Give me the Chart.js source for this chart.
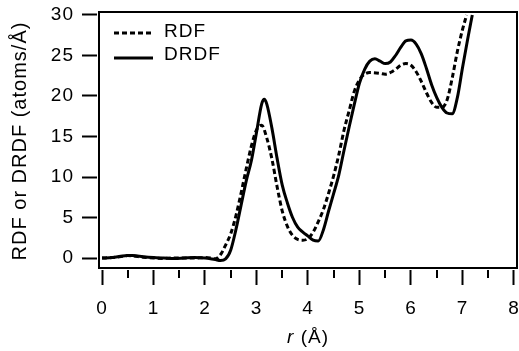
<!DOCTYPE html>
<html>
<head>
<meta charset="utf-8">
<script src="https://cdn.jsdelivr.net/npm/chart.js@4.4.1/dist/chart.umd.min.js"></script>
<style>
  html, body { margin: 0; padding: 0; background: #fff; }
  #chart { display: block; }
</style>
</head>
<body>
<canvas id="chart" width="519" height="351"></canvas>
<script>
// values
const rdfR = [0, 0.2, 0.4, 0.5, 0.6, 0.8, 1.0, 1.2, 1.4, 1.6, 1.8, 2.0, 2.1, 2.2, 2.3, 2.4, 2.5, 2.6, 2.7, 2.8, 2.9, 3.0, 3.1, 3.2, 3.3, 3.4, 3.5, 3.6, 3.7, 3.8, 3.9, 4.0, 4.1, 4.2, 4.3, 4.4, 4.5, 4.6, 4.7, 4.8, 4.9, 5.0, 5.1, 5.2, 5.4, 5.5, 5.6, 5.7, 5.8, 5.9, 6.0, 6.1, 6.2, 6.3, 6.4, 6.5, 6.6, 6.7, 6.8, 6.9, 7.0, 7.08];
const rdfValues = [0, 0.05, 0.2, 0.3, 0.25, 0.1, 0, -0.05, 0, 0, 0, 0.05, 0, -0.1, 0.4, 1.6, 3.0, 5.2, 8.0, 11.0, 13.8, 15.8, 16.4, 14.8, 12.2, 8.8, 5.8, 3.9, 2.8, 2.3, 2.2, 2.4, 3.2, 4.5, 6.0, 8.0, 10.2, 12.8, 15.8, 18.2, 20.6, 22.0, 22.7, 22.9, 22.8, 22.7, 22.9, 23.3, 23.8, 24.0, 23.8, 23.0, 21.8, 20.4, 19.2, 18.6, 18.6, 19.5, 22.2, 25.5, 28.2, 30.0];

const drdfR = [0, 0.2, 0.4, 0.5, 0.6, 0.8, 1.0, 1.2, 1.4, 1.6, 1.8, 2.0, 2.2, 2.3, 2.4, 2.5, 2.6, 2.7, 2.8, 2.9, 3.0, 3.1, 3.15, 3.2, 3.3, 3.4, 3.5, 3.6, 3.7, 3.8, 3.9, 4.0, 4.1, 4.2, 4.3, 4.4, 4.5, 4.6, 4.7, 4.8, 4.9, 5.0, 5.1, 5.2, 5.3, 5.4, 5.5, 5.6, 5.7, 5.8, 5.9, 6.0, 6.1, 6.2, 6.3, 6.4, 6.5, 6.6, 6.7, 6.8, 6.9, 7.0, 7.1, 7.19];
const drdfValues = [0, 0.05, 0.25, 0.3, 0.3, 0.15, 0.05, 0, -0.05, 0, 0.05, 0, -0.2, -0.3, -0.1, 1.0, 3.5, 6.5, 9.5, 12.0, 15.5, 19.0, 19.6, 19.0, 16.0, 12.3, 9.0, 6.8, 5.0, 3.8, 3.2, 2.7, 2.2, 2.1, 3.5, 5.8, 8.0, 10.3, 13.3, 16.2, 19.0, 21.6, 23.3, 24.3, 24.6, 24.3, 24.0, 24.2, 25.0, 26.0, 26.8, 26.9, 26.4, 25.2, 23.4, 21.4, 19.8, 18.6, 17.9, 17.8, 19.8, 23.5, 27.0, 30.0];

const seriesLabels = ['RDF', 'DRDF'];
const xTicks = [0, 1, 2, 3, 4, 5, 6, 7, 8];
const xMinorTicks = [0.5, 1.5, 2.5, 3.5, 4.5, 5.5, 6.5, 7.5];
const yTicks = [0, 5, 10, 15, 20, 25, 30];

const FONT = '"Liberation Sans", Arial, Helvetica, sans-serif';
Chart.defaults.font.family = FONT;
Chart.defaults.font.size = 19;
Chart.defaults.color = '#000';

const toPoints = (xs, ys) => xs.map((x, i) => ({ x: x, y: ys[i] }));

// the reference type is set a little loose
const spacing = {
  id: 'spacing',
  beforeLayout(chart) { chart.ctx.letterSpacing = '1px'; },
  beforeDraw(chart) { chart.ctx.letterSpacing = '1px'; }
};

// box, minor ticks, legend and the x title (italic r)
const frame = {
  id: 'frame',
  afterDraw(chart) {
    const { ctx, chartArea: a, scales: { x } } = chart;
    ctx.save();
    ctx.strokeStyle = '#000';
    ctx.fillStyle = '#000';
    ctx.lineWidth = 2;
    ctx.setLineDash([]);
    ctx.strokeRect(a.left + 2, a.top, a.right - a.left - 2, a.bottom - a.top - 2);

    xMinorTicks.forEach(v => {
      const px = Math.round(x.getPixelForValue(v));
      ctx.beginPath();
      ctx.moveTo(px, a.bottom);
      ctx.lineTo(px, a.bottom + 8);
      ctx.stroke();
    });

    chart.data.datasets.forEach((ds, i) => {
      const y = a.top + 21 + i * 25;
      ctx.lineWidth = ds.borderWidth;
      ctx.setLineDash(ds.borderDash || []);
      ctx.beginPath();
      ctx.moveTo(a.left + 17, y);
      ctx.lineTo(a.left + 56, y);
      ctx.stroke();
      ctx.setLineDash([]);
      ctx.font = '19px ' + FONT;
      ctx.textAlign = 'left';
      ctx.textBaseline = 'middle';
      ctx.fillText(ds.label, a.left + 67, y - 1 - i * 2);
    });

    const italic = 'italic 19px ' + FONT;
    const upright = '19px ' + FONT;
    ctx.font = italic;
    const w1 = ctx.measureText('r').width;
    ctx.font = upright;
    const w2 = ctx.measureText(' (Å)').width;
    const cx = (x.getPixelForValue(xTicks[0]) + x.getPixelForValue(xTicks[xTicks.length - 1])) / 2;
    const left = cx - (w1 + w2) / 2;
    ctx.textAlign = 'left';
    ctx.textBaseline = 'alphabetic';
    ctx.font = italic;
    ctx.fillText('r', left, 343);
    ctx.font = upright;
    ctx.fillText(' (Å)', left + w1, 343);
    ctx.restore();
  }
};

const tickGrid = {
  display: true,
  drawOnChartArea: false,
  drawTicks: true,
  tickLength: 15,
  tickWidth: 2,
  tickColor: '#000'
};

new Chart(document.getElementById('chart'), {
  type: 'line',
  data: {
    datasets: [
      {
        label: seriesLabels[0],
        data: toPoints(rdfR, rdfValues),
        borderColor: '#000',
        borderWidth: 3,
        borderDash: [5, 3],
        pointRadius: 0,
        cubicInterpolationMode: 'monotone',
        fill: false
      },
      {
        label: seriesLabels[1],
        data: toPoints(drdfR, drdfValues),
        borderColor: '#000',
        borderWidth: 3,
        pointRadius: 0,
        cubicInterpolationMode: 'monotone',
        fill: false
      }
    ]
  },
  options: {
    responsive: false,
    animation: false,
    devicePixelRatio: 1,
    layout: { padding: { left: 0, top: 12, right: 2, bottom: 0 } },
    plugins: {
      legend: { display: false },
      tooltip: { enabled: false }
    },
    scales: {
      x: {
        type: 'linear',
        min: -0.0971,
        max: 8.0583,
        afterBuildTicks: s => { s.ticks = xTicks.map(v => ({ value: v })); },
        afterFit: s => { s.height = 81; s.paddingLeft = 0; s.paddingRight = 0; },
        grid: tickGrid,
        border: { display: false },
        ticks: { padding: 12, color: '#000', maxRotation: 0, autoSkip: false }
      },
      y: {
        type: 'linear',
        min: -1.481,
        max: 30.37,
        afterBuildTicks: s => { s.ticks = yTicks.map(v => ({ value: v })); },
        afterFit: s => { s.width = 97; s.paddingTop = 0; s.paddingBottom = 0; },
        grid: tickGrid,
        border: { display: false },
        ticks: { padding: 8, color: '#000', autoSkip: false },
        title: {
          display: true,
          text: 'RDF or DRDF (atoms/Å)',
          color: '#000',
          padding: { top: 8, bottom: 0 },
          font: { size: 20 }
        }
      }
    }
  },
  plugins: [spacing, frame]
});
</script>
</body>
</html>
